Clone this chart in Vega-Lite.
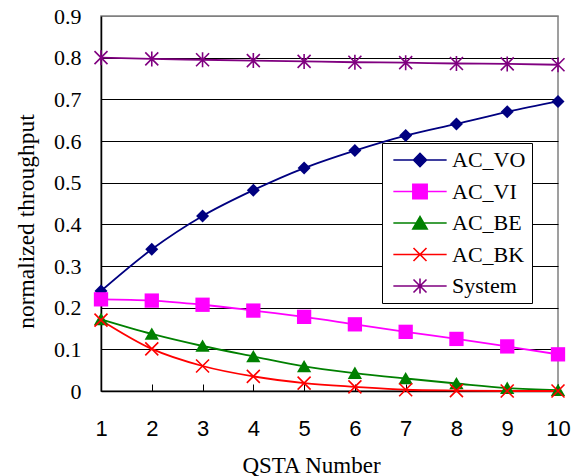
{
  "$schema": "https://vega.github.io/schema/vega-lite/v6.json",
  "width": 457,
  "height": 375,
  "autosize": {"type": "none"},
  "padding": {"left": 101, "top": 16, "right": 21, "bottom": 85},
  "background": "white",
  "config": {
    "view": {"stroke": "#808080", "strokeWidth": 1.5},
    "axis": {"domainColor": "black", "domainWidth": 1.5, "tickColor": "black", "labelColor": "black", "titleColor": "black", "titleFontWeight": "normal"},
    "legend": {"titleFontWeight": "normal"},
    "point": {"opacity": 1, "size": 169, "strokeWidth": 1.6}
  },
  "data": {"values": [
    {"x": 1, "series": "AC_VO", "y": 0.240}, {"x": 2, "series": "AC_VO", "y": 0.340}, {"x": 3, "series": "AC_VO", "y": 0.420}, {"x": 4, "series": "AC_VO", "y": 0.482}, {"x": 5, "series": "AC_VO", "y": 0.535}, {"x": 6, "series": "AC_VO", "y": 0.577}, {"x": 7, "series": "AC_VO", "y": 0.613}, {"x": 8, "series": "AC_VO", "y": 0.641}, {"x": 9, "series": "AC_VO", "y": 0.670}, {"x": 10, "series": "AC_VO", "y": 0.695},
    {"x": 1, "series": "AC_VI", "y": 0.220}, {"x": 2, "series": "AC_VI", "y": 0.217}, {"x": 3, "series": "AC_VI", "y": 0.207}, {"x": 4, "series": "AC_VI", "y": 0.193}, {"x": 5, "series": "AC_VI", "y": 0.178}, {"x": 6, "series": "AC_VI", "y": 0.160}, {"x": 7, "series": "AC_VI", "y": 0.142}, {"x": 8, "series": "AC_VI", "y": 0.125}, {"x": 9, "series": "AC_VI", "y": 0.107}, {"x": 10, "series": "AC_VI", "y": 0.088},
    {"x": 1, "series": "AC_BE", "y": 0.172}, {"x": 2, "series": "AC_BE", "y": 0.137}, {"x": 3, "series": "AC_BE", "y": 0.108}, {"x": 4, "series": "AC_BE", "y": 0.083}, {"x": 5, "series": "AC_BE", "y": 0.059}, {"x": 6, "series": "AC_BE", "y": 0.043}, {"x": 7, "series": "AC_BE", "y": 0.030}, {"x": 8, "series": "AC_BE", "y": 0.018}, {"x": 9, "series": "AC_BE", "y": 0.007}, {"x": 10, "series": "AC_BE", "y": 0.002},
    {"x": 1, "series": "AC_BK", "y": 0.170}, {"x": 2, "series": "AC_BK", "y": 0.101}, {"x": 3, "series": "AC_BK", "y": 0.060}, {"x": 4, "series": "AC_BK", "y": 0.035}, {"x": 5, "series": "AC_BK", "y": 0.019}, {"x": 6, "series": "AC_BK", "y": 0.010}, {"x": 7, "series": "AC_BK", "y": 0.003}, {"x": 8, "series": "AC_BK", "y": 0.001}, {"x": 9, "series": "AC_BK", "y": 0.000}, {"x": 10, "series": "AC_BK", "y": 0.000},
    {"x": 1, "series": "System", "y": 0.800}, {"x": 2, "series": "System", "y": 0.797}, {"x": 3, "series": "System", "y": 0.795}, {"x": 4, "series": "System", "y": 0.793}, {"x": 5, "series": "System", "y": 0.791}, {"x": 6, "series": "System", "y": 0.789}, {"x": 7, "series": "System", "y": 0.788}, {"x": 8, "series": "System", "y": 0.786}, {"x": 9, "series": "System", "y": 0.785}, {"x": 10, "series": "System", "y": 0.783}
  ]},
  "encoding": {
    "x": {
      "field": "x", "type": "quantitative",
      "scale": {"domain": [1, 10], "nice": false, "zero": false},
      "axis": {
        "values": [1, 2, 3, 4, 5, 6, 7, 8, 9, 10],
        "grid": false,
        "tickSize": -7,
        "tickWidth": 1,
        "labelFont": "Liberation Sans", "labelFontSize": 22, "labelPadding": 34,
        "labelFlush": false,
        "title": "QSTA Number",
        "titleFont": "Liberation Serif", "titleFontSize": 23,
        "titleX": 210, "titleY": 81, "titleBaseline": "alphabetic", "titleAlign": "center"
      }
    },
    "y": {
      "field": "y", "type": "quantitative",
      "scale": {"domain": [0, 0.9], "nice": false},
      "axis": {
        "values": [0, 0.1, 0.2, 0.3, 0.4, 0.5, 0.6, 0.7, 0.8, 0.9],
        "format": ".1~f",
        "grid": true,
        "gridColor": {"condition": {"test": "datum.value >= 0.89", "value": "#808080"}, "value": "black"},
        "gridWidth": 1,
        "ticks": false,
        "labelFont": "Liberation Serif", "labelFontSize": 22, "labelPadding": 20,
        "labelFlush": false,
        "title": "normalized throughput",
        "titleFont": "Liberation Serif", "titleFontSize": 23.5,
        "titleX": -68, "titleY": 205, "titleBaseline": "alphabetic", "titleAngle": -90, "titleAlign": "center"
      }
    }
  },
  "layer": [
    {
      "mark": {"type": "line", "interpolate": "monotone", "strokeWidth": 1.8},
      "encoding": {
        "color": {
          "field": "series", "type": "nominal",
          "scale": {"domain": ["AC_VO", "AC_VI", "AC_BE", "AC_BK", "System"], "range": ["#000080", "#FF00FF", "#008000", "#FF0000", "#800080"]},
          "legend": {
            "orient": "none", "legendX": 281, "legendY": 127,
            "title": null,
            "padding": 6,
            "strokeColor": "black", "fillColor": "white",
            "labelFont": "Liberation Serif", "labelFontSize": 22, "labelColor": "black",
            "rowPadding": 9.5,
            "symbolSize": 169,
            "symbolOffset": 21,
            "labelOffset": 21,
            "symbolStrokeWidth": 1.6,
            "encode": {
              "symbols": {
                "update": {
                  "shape": {"signal": "datum.value === 'AC_VO' ? 'M-4.1,0L4.1,0M-1,0L0,-1L1,0L0,1Z' : datum.value === 'AC_VI' ? 'M-4.1,0L4.1,0M-1.1,-1.1L1.1,-1.1L1.1,1.1L-1.1,1.1Z' : datum.value === 'AC_BE' ? 'M-4.1,0L4.1,0M-1.1,0.9L1.1,0.9L0,-1Z' : datum.value === 'AC_BK' ? 'M-4.1,0L4.1,0M-1,-1L1,1M-1,1L1,-1' : 'M-4.1,0L4.1,0M-1,-1L1,1M-1,1L1,-1M0,-1.15L0,1.15'"},
                  "fill": {"signal": "datum.value === 'AC_VO' ? '#000080' : datum.value === 'AC_VI' ? '#FF00FF' : datum.value === 'AC_BE' ? '#008000' : 'transparent'"},
                  "stroke": {"signal": "datum.value === 'AC_VO' ? '#000080' : datum.value === 'AC_VI' ? '#FF00FF' : datum.value === 'AC_BE' ? '#008000' : datum.value === 'AC_BK' ? '#FF0000' : '#800080'"},
                  "strokeWidth": {"value": 1.6},
                  "size": {"value": 169},
                  "opacity": {"value": 1}
                }
              }
            }
          }
        }
      }
    },
    {
      "transform": [{"filter": "datum.series === 'AC_VO'"}],
      "mark": {"type": "point", "shape": "M-1,0L0,-1L1,0L0,1Z", "filled": true, "color": "#000080"}
    },
    {
      "transform": [{"filter": "datum.series === 'AC_VI'"}],
      "mark": {"type": "point", "shape": "M-1.1,-1.1L1.1,-1.1L1.1,1.1L-1.1,1.1Z", "filled": true, "color": "#FF00FF"}
    },
    {
      "transform": [{"filter": "datum.series === 'AC_BE'"}],
      "mark": {"type": "point", "shape": "M-1.1,0.9L1.1,0.9L0,-1Z", "filled": true, "color": "#008000"}
    },
    {
      "transform": [{"filter": "datum.series === 'AC_BK'"}],
      "mark": {"type": "point", "shape": "M-1,-1L1,1M-1,1L1,-1", "filled": false, "color": "#FF0000"}
    },
    {
      "transform": [{"filter": "datum.series === 'System'"}],
      "mark": {"type": "point", "shape": "M-1,-1L1,1M-1,1L1,-1M0,-1.15L0,1.15", "filled": false, "color": "#800080"}
    }
  ]
}
